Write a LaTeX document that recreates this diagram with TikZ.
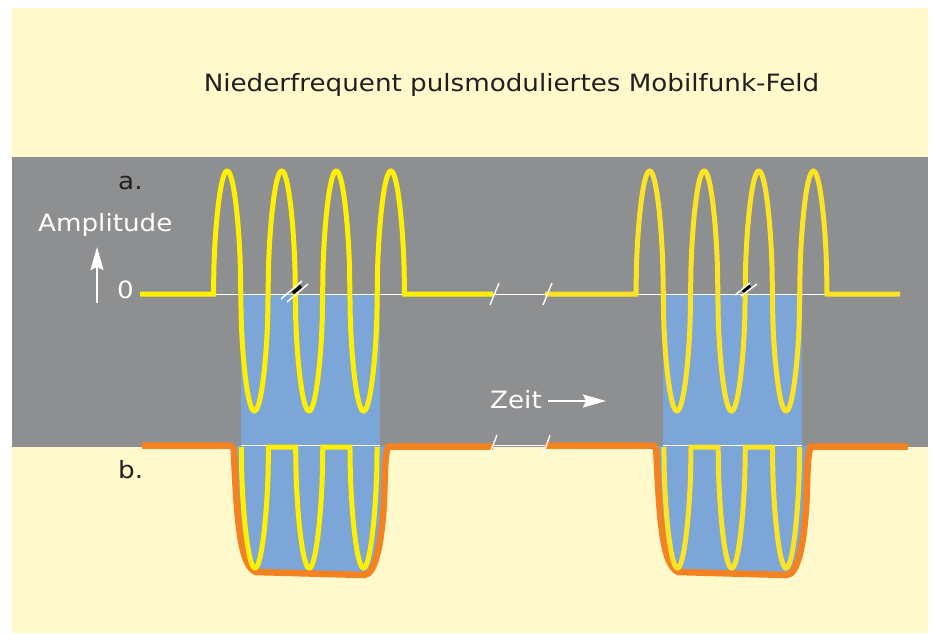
\documentclass[tikz,border=0pt]{standalone}
\usepackage{fontspec}
\setmainfont{DejaVu Sans}[FakeStretch=1.1]
\usepackage{xcolor}
\definecolor{cream}{HTML}{FFF9CC}
\definecolor{band}{HTML}{8E8F91}
\definecolor{pulseblue}{HTML}{7BA6D7}
\definecolor{carrier}{HTML}{FFF000}
\definecolor{carrierb}{HTML}{FCE424}
\definecolor{envelope}{HTML}{F58220}
\definecolor{ink}{HTML}{231F20}
\usepackage{tikz}
\usetikzlibrary{arrows.meta, positioning}

\tikzset{
  lbl/.style={font=\fontsize{23.8}{28}\selectfont, inner sep=0pt},
  wave/.style={line width=5pt, line join=miter},
  envline/.style={envelope, line width=6.5pt, line join=round},
  hairline/.style={white, line width=1pt},
  cutline/.style={white, line width=1.4pt},
  axisarrow/.style={white, line width=2pt, -{Stealth[length=23pt, width=13pt, inset=3pt]}}
}

\begin{document}
\begin{tikzpicture}[x=1pt, y=-1pt]
  \useasboundingbox (0,0) rectangle (933,633);
  \fill[cream] (12,8) rectangle (928,633);
  \fill[band] (12,157) rectangle (928,447);

  % the two bursts
  \foreach \dx/\col/\from/\to/\ofrom/\oto in
      {0/carrier/140/493/142/493, 422.5/carrierb/122.5/477.5/122.5/485.5} {
    \begin{scope}[xshift=\dx pt]
      \fill[pulseblue] (240.5,294) rectangle (379.5,447);
      \fill[pulseblue] (234,446) .. controls (237,520) and (240,566) .. (256,572)
        -- (364,575) .. controls (376,575) and (382,540) .. (384,500)
        .. controls (385,470) and (385,455) .. (386,446) -- cycle;
      \draw[hairline] (213.5,294.5) -- (404.5,294.5);
      \draw[hairline] (240.5,445) -- (379.5,445);
      % b. envelope
      \draw[envline] (\ofrom,445.5) -- (228,445.5)
        .. controls (233,445.5) and (234,448) .. (234,455)
        .. controls (237,520) and (240,566) .. (256,572) -- (364,575)
        .. controls (376,575) and (382,540) .. (384,500)
        .. controls (385,470) and (385,455) .. (388,446.5) -- (\oto,446.5);
      % b. rectified carrier
      \draw[wave, \col]
        plot[domain=0:180, samples=73] ({241.35+\x/6.6298},{447+121*sqrt(abs(sin(\x)))})
        -- plot[domain=0:180, samples=73] ({295.65+\x/6.6298},{447+121*sqrt(abs(sin(\x)))})
        -- plot[domain=0:180, samples=73] ({349.95+\x/6.6298},{447+121*sqrt(abs(sin(\x)))});
      % a. carrier
      \draw[wave, \col] (\from,294) -- (213.5,294)
        -- plot[domain=0:1260, samples=505]
           ({213.5+\x/6.597},{sin(\x)>0 ? 294-123*sqrt(abs(sin(\x))) : 294+117*sqrt(abs(sin(\x)))})
        -- (\to,294);
    \end{scope}
  }

  % breaks on the time axis
  \draw[hairline] (493,294.5) -- (545,294.5);
  \draw[hairline] (493,445) -- (545,445);
  \draw[cutline] (490,305) -- (499,283) (543,305) -- (552,283);
  \draw[cutline] (488,458) -- (497,435) (542,458) -- (550,435);

  % marks on the zero line
  \draw[black, line width=3.5pt] (293,293) -- (301,286);
  \draw[cutline] (281,299) -- (302,281) (287,302) -- (308,284);
  \draw[black, line width=3.5pt] (743,292) -- (750,285.5);
  \draw[cutline] (735,295) -- (750,283) (741,296) -- (757,284);

  % labels
  \node[lbl, text=ink, anchor=base] (title) at (511.5,91)
    {Niederfrequent pulsmoduliertes Mobilfunk-Feld};
  \node[lbl, text=ink, anchor=base west] (la) at (118,189) {a.};
  \node[lbl, text=white, anchor=base west] (amp) at (38,231) {Amplitude};
  \node[lbl, text=white, anchor=base west] (zero) at (117,298) {0};
  \node[lbl, text=ink, anchor=base west] (lb) at (118,478) {b.};
  \node[lbl, text=white, anchor=base west] (zeit) at (490,408) {Zeit};

  \coordinate (ampfoot) at (97,303);
  \coordinate (amptip) at (97,247);
  \draw[axisarrow] (ampfoot) -- (amptip);
  \coordinate (tstart) at (548,401);
  \coordinate (tend) at (606,401);
  \draw[axisarrow] (tstart) -- (tend);
\end{tikzpicture}
\end{document}
